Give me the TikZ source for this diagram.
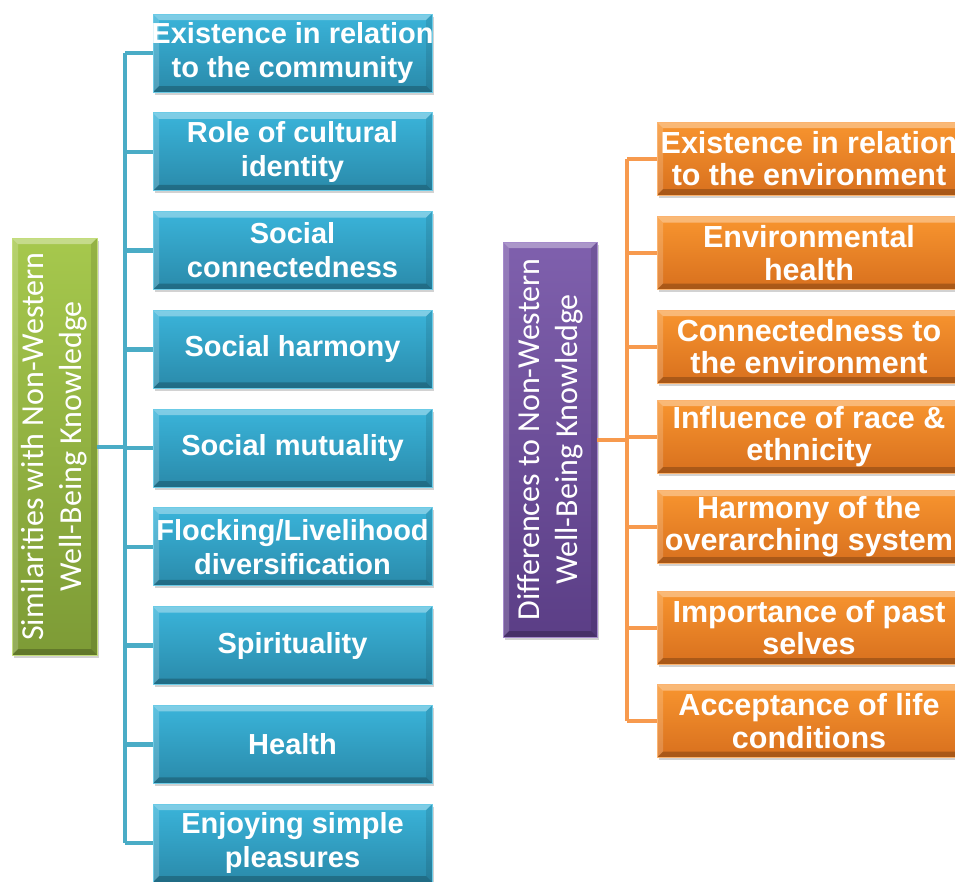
\documentclass[tikz,border=0pt]{standalone}
\usepackage{fontspec}
\setmainfont{Liberation Sans}
\newfontfamily\calfont{Carlito}
\usetikzlibrary{shadows}
\definecolor{blueT}{HTML}{3AB4DA}
\definecolor{blueB}{HTML}{2A8AAA}
\definecolor{blueL}{HTML}{6CCBE6}
\definecolor{blueLine}{HTML}{4AACC6}
\definecolor{orT}{HTML}{F8952F}
\definecolor{orB}{HTML}{D8701E}
\definecolor{orL}{HTML}{FBB36F}
\definecolor{orLine}{HTML}{F79A4E}
\definecolor{grT}{HTML}{A6C84D}
\definecolor{grB}{HTML}{7D9B36}
\definecolor{grL}{HTML}{C3DD7A}
\definecolor{puT}{HTML}{7F60AD}
\definecolor{puB}{HTML}{5B3E86}
\definecolor{puL}{HTML}{A58BCB}
\tikzset{
  bevel/.style={path picture={
    \fill[white,opacity=0.35] (path picture bounding box.north west) -- (path picture bounding box.north east)
      -- ([xshift=-6pt,yshift=-6pt]path picture bounding box.north east) -- ([xshift=6pt,yshift=-6pt]path picture bounding box.north west) -- cycle;
    \fill[white,opacity=0.18] (path picture bounding box.north west) -- (path picture bounding box.south west)
      -- ([xshift=6pt,yshift=6pt]path picture bounding box.south west) -- ([xshift=6pt,yshift=-6pt]path picture bounding box.north west) -- cycle;
    \fill[black,opacity=0.22] (path picture bounding box.south west) -- (path picture bounding box.south east)
      -- ([xshift=-6pt,yshift=6pt]path picture bounding box.south east) -- ([xshift=6pt,yshift=6pt]path picture bounding box.south west) -- cycle;
    \fill[black,opacity=0.10] (path picture bounding box.north east) -- (path picture bounding box.south east)
      -- ([xshift=-6pt,yshift=6pt]path picture bounding box.south east) -- ([xshift=-6pt,yshift=-6pt]path picture bounding box.north east) -- cycle;
  }},
  box/.style={rectangle, align=center, text=white, inner sep=0pt, line width=0.8pt, bevel,
    drop shadow={shadow xshift=1.5pt, shadow yshift=-2.5pt, opacity=0.25, fill=black!70}},
  bbox/.style={box, top color=blueT, bottom color=blueB, draw=blueL,
    minimum width=279pt, minimum height=78pt, font=\bfseries\fontsize{29}{34}\selectfont},
  obox/.style={box, top color=orT, bottom color=orB, draw=orL,
    minimum width=304pt, minimum height=73pt, font=\bfseries\fontsize{30.5}{32.5}\selectfont},
  vlabel/.style={rotate=90, align=center, text=white, inner sep=0pt, font=\calfont\fontsize{32}{38}\selectfont},
  bline/.style={draw=blueLine, line width=4.5pt},
  oline/.style={draw=orLine, line width=4pt},
}
\begin{document}
\begin{tikzpicture}[x=1pt,y=-1pt]
\fill[white] (0,0) rectangle (955,881);
\useasboundingbox (0,0) rectangle (955,881);

\coordinate (lt) at (125,447);
\coordinate (rt) at (627,440);
\path (54.5,446.5) coordinate (gc) (550,439.5) coordinate (pc);

% left group
\node[box, top color=grT, bottom color=grB, draw=grL, minimum width=85pt, minimum height=417pt] (g) at (gc) {};
\node[vlabel] (gt) at (g) {Similarities with Non-Western\\Well-Being Knowledge};

\foreach \i/\t in {0/{\makebox[0pt][c]{Existence in relation}\\to the community},
                   1/{Role of cultural\\identity},
                   2/{Social\\connectedness},
                   3/{Social harmony},
                   4/{Social mutuality},
                   5/{\makebox[0pt][c]{Flocking/Livelihood}\\diversification},
                   6/{Spirituality},
                   7/{Health},
                   8/{Enjoying simple\\pleasures}}{
  \node[bbox] (b\i) at (292.5,{53+98.75*\i}) {\t};
}

% right group
\node[box, top color=puT, bottom color=puB, draw=puL, minimum width=94pt, minimum height=395pt] (p) at (pc) {};
\node[vlabel] (pt) at (p) {Differences to Non-Western\\Well-Being Knowledge};

\foreach \i/\y/\t in {0/158.5/{Existence in relation\\to the environment},
                      1/253/{Environmental\\health},
                      2/346.5/{Connectedness to\\the environment},
                      3/436.5/{Influence of race \&\\ethnicity},
                      4/526.5/{Harmony of the\\overarching system},
                      5/627.5/{Importance of past\\selves},
                      6/721/{Acceptance of life\\conditions}}{
  \node[obox] (o\i) at (809,\y) {\t};
}

\draw[bline] (lt |- b0.west) -- (lt |- b8.west);
\draw[bline] (g.east |- lt) -- (lt);
\foreach \i in {0,...,8}{
  \draw[bline] (lt |- b\i.west) -- (b\i.west);
}
\draw[oline] (rt |- o0.west) -- (rt |- o6.west);
\draw[oline] (p.east |- rt) -- (rt);
\foreach \i in {0,...,6}{
  \draw[oline] (rt |- o\i.west) -- (o\i.west);
}
\end{tikzpicture}
\end{document}
